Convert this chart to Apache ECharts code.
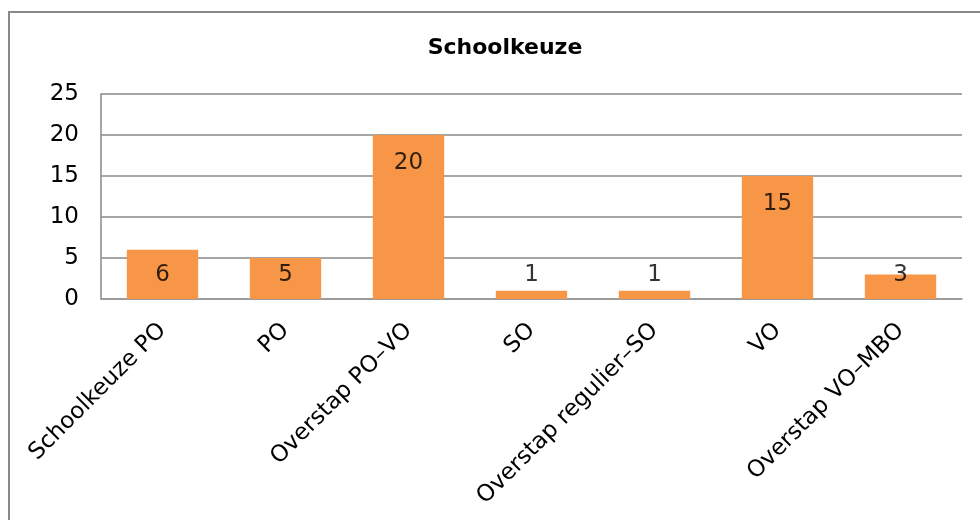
<!DOCTYPE html>
<html>
<head>
<meta charset="utf-8">
<script src="https://cdn.jsdelivr.net/npm/echarts@6/dist/echarts.min.js"></script>
<style>
html,body{margin:0;padding:0;background:#fff;}
#chart{width:980px;height:520px;}
</style>
</head>
<body>
<div id="chart"></div>
<script>
var title = 'Schoolkeuze';
var categories = ['Schoolkeuze PO', 'PO', 'Overstap PO\u2013VO', 'SO', 'Overstap regulier\u2013SO', 'VO', 'Overstap VO\u2013MBO'];
var values = [6, 5, 20, 1, 1, 15, 3];
var yTicks = [0, 5, 10, 15, 20, 25];

var FONT = 'DejaVu Sans';
var chart = echarts.init(document.getElementById('chart'));
// Label anchor values: inside the top of tall bars, at a floor level for short bars
var labelPts = values.map(function (v, i) {
  return { value: [i, Math.max(v - 3.4, 2.9)], label: { formatter: String(v) } };
});
chart.setOption({
  animation: false,
  title: {
    text: title, left: 500, textAlign: 'center', top: 32,
    textStyle: { fontFamily: FONT, fontSize: 22, fontWeight: 'bold', color: '#000' }
  },
  graphic: [{
    type: 'polyline',
    shape: { points: [[9, 540], [9, 12], [1000, 12]] },
    style: { stroke: '#888', lineWidth: 2, fill: null }
  }],
  grid: { left: 101, right: 18, top: 94, bottom: 221 },
  xAxis: {
    type: 'category', data: categories,
    axisLine: { lineStyle: { color: '#999', width: 1.5 } },
    axisTick: { show: false },
    axisLabel: { rotate: 45, interval: 0, margin: 28, fontFamily: FONT, fontSize: 23, color: '#000' }
  },
  yAxis: {
    type: 'value', min: yTicks[0], max: yTicks[yTicks.length - 1], interval: 5,
    axisLine: { show: true, lineStyle: { color: '#888', width: 1.5 } },
    axisTick: { show: false },
    splitLine: { lineStyle: { color: '#888', width: 1.5 } },
    axisLabel: { margin: 22, fontFamily: FONT, fontSize: 23, color: '#000' }
  },
  series: [{
    type: 'bar', data: values, barWidth: '58%',
    itemStyle: { color: '#F79646' },
    label: { show: false }
  }, {
    type: 'scatter', data: labelPts, symbolSize: 0,
    label: { show: true, position: 'inside', fontFamily: FONT, fontSize: 23, color: '#000' },
    silent: true, z: 5
  }]
});
</script>
</body>
</html>
